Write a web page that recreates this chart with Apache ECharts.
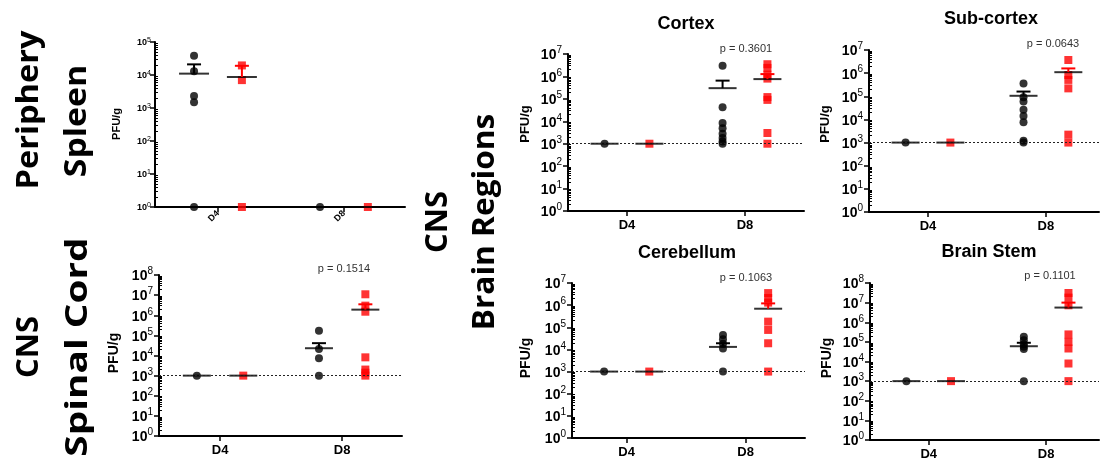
<!DOCTYPE html>
<html>
<head>
<meta charset="utf-8">
<script src="https://cdn.jsdelivr.net/npm/echarts@6/dist/echarts.min.js"></script>
<style>
  html, body { margin: 0; padding: 0; background: #fff; }
  #chart { width: 1105px; height: 462px; }
</style>
</head>
<body>
<div id="chart"></div>
<script>
// ---- data (PFU/g) ----
const days = ['D4', 'D8'];
const panelNames = ['Spleen', 'Spinal Cord', 'Cortex', 'Sub-cortex', 'Cerebellum', 'Brain Stem'];
const topExponent = [5, 8, 7, 7, 7, 8];
const pValues = ['', '0.1514', '0.3601', '0.0643', '0.1063', '0.1101'];

// individual animals: [D4 values, D8 values]
const spleenBlack = [[38000, 13000, 2300, 1500, 1], [1]];
const spleenRed = [[19500, 7000, 1], [1]];
const spinalBlack = [[1000], [170000, 21000, 7200, 1000]];
const spinalRed = [[1000], [11000000, 3000000, 1500000, 8100, 2000, 1400, 1000]];
const cortexBlack = [[1000], [3000000, 42000, 8300, 4900, 2800, 1800, 1250, 1000]];
const cortexRed = [[1000], [3500000, 2400000, 1200000, 800000, 120000, 90000, 3000, 1000]];
const subBlack = [[1000], [360000, 90000, 60000, 26000, 14000, 7600, 1200, 1000]];
const subRed = [[1000], [3700000, 830000, 510000, 220000, 2200, 1000]];
const cerebBlack = [[1000], [45000, 29000, 18000, 11000, 1000]];
const cerebRed = [[1000], [3500000, 2100000, 1300000, 180000, 76000, 19000, 1000]];
const stemBlack = [[1000], [180000, 120000, 76000, 56000, 43000, 1000]];
const stemRed = [[1000], [31000000, 18000000, 7300000, 240000, 100000, 46000, 7900, 1000]];

// group means and upper end of the SEM bar: [black D4, red D4, black D8, red D8]
const spleenMean = [11000, 8700, 1, 1];
const spleenSemTop = [21000, 19000, 1, 1];
const spinalMean = [1000, 1000, 23000, 1900000];
const spinalSemTop = [1000, 1000, 41000, 3500000];
const cortexMean = [1000, 1000, 300000, 760000];
const cortexSemTop = [1000, 1000, 650000, 1270000];
const subMean = [1000, 1000, 105000, 1100000];
const subSemTop = [1000, 1000, 160000, 1600000];
const cerebMean = [1000, 1000, 13000, 690000];
const cerebSemTop = [1000, 1000, 19000, 1200000];
const stemMean = [1000, 1000, 60000, 5600000];
const stemSemTop = [1000, 1000, 90000, 10000000];

// limit of detection
const detectionLimit = 1000;

const panelData = [
  [spleenBlack, spleenRed, spleenMean, spleenSemTop],
  [spinalBlack, spinalRed, spinalMean, spinalSemTop],
  [cortexBlack, cortexRed, cortexMean, cortexSemTop],
  [subBlack, subRed, subMean, subSemTop],
  [cerebBlack, cerebRed, cerebMean, cerebSemTop],
  [stemBlack, stemRed, stemMean, stemSemTop]
];

// ---- layout ----
const grids = [
  { left: 155, top: 42, width: 250, height: 165 },
  { left: 159, top: 275, width: 243, height: 161 },
  { left: 568, top: 54, width: 236, height: 157 },
  { left: 869, top: 50, width: 230, height: 162 },
  { left: 572, top: 283, width: 233, height: 155 },
  { left: 870, top: 283, width: 229, height: 157 }
];
const xRange = [[0, 3.97], [0, 3.98], [0, 4], [0, 3.9], [0.08, 4], [0, 3.9]];
const dayPos = [1, 3];
const groupOffset = 0.38;
const RED = '#ff0000';
const FONT = 'Liberation Sans, Arial, sans-serif';

const chart = echarts.init(document.getElementById('chart'), null, { renderer: 'canvas' });

const xAxes = [], yAxes = [], series = [];

panelData.forEach(([black, red, mean, semTop], i) => {
  const small = i === 0;
  const majors = [], minors = [];
  for (let e = 0; e <= topExponent[i]; e++) {
    majors.push(Math.pow(10, e));
    if (e < topExponent[i]) for (let k = 2; k <= 9; k++) minors.push(k * Math.pow(10, e));
  }

  xAxes.push({
    type: 'value', gridIndex: i, min: xRange[i][0], max: xRange[i][1],
    axisLine: { onZero: false, lineStyle: { color: '#000', width: 2 } },
    axisTick: { customValues: dayPos, length: 5, lineStyle: { color: '#000', width: 1.5 } },
    axisLabel: {
      customValues: dayPos,
      formatter: v => days[dayPos.indexOf(v)],
      color: '#000', fontFamily: FONT, fontWeight: 'bold',
      fontSize: small ? 9 : 13, rotate: small ? 45 : 0, margin: small ? 5 : 8
    },
    splitLine: { show: false }
  });

  const tickFmt = v => '{b|10}{s|' + Math.round(Math.log10(v)) + '}';
  yAxes.push({
    type: 'log', logBase: 10, gridIndex: i, min: 1, max: Math.pow(10, topExponent[i]), position: 'left',
    axisLine: { show: true, lineStyle: { color: '#000', width: 2 } },
    axisTick: { customValues: majors, length: 5, lineStyle: { color: '#000', width: 1.5 } },
    axisLabel: {
      customValues: majors, formatter: tickFmt, margin: small ? 4 : 6,
      rich: {
        b: { fontFamily: FONT, fontWeight: 'bold', fontSize: small ? 9 : 14, color: '#000', padding: [small ? 2 : 3, 0, 0, 0] },
        s: { fontFamily: FONT, fontSize: small ? 7 : 10, color: '#000', verticalAlign: 'top' }
      }
    },
    splitLine: { show: false }
  });
  // minor ticks (2..9 per decade) drawn on the inner side of the axis
  yAxes.push({
    type: 'log', logBase: 10, gridIndex: i, min: 1, max: Math.pow(10, topExponent[i]), position: 'left', offset: 0,
    axisLine: { show: false },
    axisTick: { show: true, inside: true, customValues: minors, length: 3, lineStyle: { color: '#000', width: 1 } },
    axisLabel: { show: false },
    splitLine: { show: false }
  });
  const yIdx = i * 2;

  const pts = (groups, off) => groups.flatMap((vals, d) => vals.map(v => [dayPos[d] + off, v]));

  series.push({
    type: 'scatter', xAxisIndex: i, yAxisIndex: yIdx, symbol: 'circle', symbolSize: 8,
    itemStyle: { color: '#000' }, z: 2, silent: true,
    data: pts(black, -groupOffset),
    markLine: i === 0 ? undefined : {
      silent: true, symbol: 'none', label: { show: false },
      lineStyle: { color: '#222', width: 1, type: [2, 2] },
      data: [{ yAxis: detectionLimit }]
    }
  });
  series.push({
    type: 'scatter', xAxisIndex: i, yAxisIndex: yIdx, symbol: 'rect', symbolSize: 8,
    itemStyle: { color: RED }, z: 2, silent: true,
    data: pts(red, groupOffset)
  });

  const centers = [dayPos[0] - groupOffset, dayPos[0] + groupOffset, dayPos[1] - groupOffset, dayPos[1] + groupOffset];
  series.push({
    type: 'scatter', xAxisIndex: i, yAxisIndex: yIdx, symbol: 'rect',
    symbolSize: [small ? 30 : 28, 2], itemStyle: { color: '#000' }, z: 4, silent: true,
    data: centers.map((x, k) => [x, mean[k]])
  });
  series.push({
    type: 'custom', xAxisIndex: i, yAxisIndex: yIdx, z: 5, silent: true,
    data: centers.map((x, k) => [x, mean[k], semTop[k], k % 2]),
    renderItem: (params, api) => {
      const m = api.value(1), t = api.value(2);
      if (!(t > m)) return null;
      const x = api.value(0);
      const p0 = api.coord([x, m]), p1 = api.coord([x, t]);
      const c = api.value(3) ? RED : '#000';
      return {
        type: 'group', children: [
          { type: 'line', shape: { x1: p0[0], y1: p0[1], x2: p1[0], y2: p1[1] }, style: { stroke: c, lineWidth: 2 } },
          { type: 'line', shape: { x1: p1[0] - 7, y1: p1[1], x2: p1[0] + 7, y2: p1[1] }, style: { stroke: c, lineWidth: 2 } }
        ]
      };
    }
  });
});

// ---- text ----
const txt = (text, x, y, size, opts = {}) => Object.assign({
  type: 'text', x, y, silent: true,
  style: {
    text, fill: opts.fill || '#000', fontFamily: opts.family || FONT,
    fontWeight: opts.weight || 'bold', fontSize: size, align: 'center', verticalAlign: 'middle'
  }
}, opts.extra || {});
const vert = (text, x, y, size, stretch, family) =>
  txt(text, x, y, size, { family, extra: { rotation: Math.PI / 2, scaleX: stretch || 1 } });

const BIG = 'Open Sans, sans-serif';
const graphic = [
  vert('Periphery', 29, 110, 31, 1.05, BIG),
  vert('Spleen', 77, 121, 31, 1.09, BIG),
  vert('CNS', 29, 347, 31, 1.0, BIG),
  vert('Spinal Cord', 78, 347, 31, 1.25, BIG),
  vert('CNS', 438, 222, 31, 1.0, BIG),
  vert('Brain Regions', 485, 222, 31, 1.02, BIG),

  txt('Cortex', 686, 24, 18),
  txt('Sub-cortex', 991, 19, 18),
  txt('Cerebellum', 687, 253, 18),
  txt('Brain Stem', 989, 252, 18),

  vert('PFU/g', 117, 124, 11),
  vert('PFU/g', 114, 353, 14),
  vert('PFU/g', 525, 124, 13),
  vert('PFU/g', 825, 124, 13),
  vert('PFU/g', 526, 358, 14),
  vert('PFU/g', 827, 358, 14)
];
const pPos = [null, [344, 269], [746, 49], [1053, 44], [746, 278], [1050, 276]];
pValues.forEach((p, i) => {
  if (p) graphic.push(txt('p = ' + p, pPos[i][0], pPos[i][1], 11, { weight: 'normal', fill: '#333' }));
});

chart.setOption({
  animation: false,
  backgroundColor: '#fff',
  grid: grids.map(g => Object.assign({ containLabel: false }, g)),
  xAxis: xAxes,
  yAxis: yAxes,
  series,
  graphic
});
</script>
</body>
</html>
